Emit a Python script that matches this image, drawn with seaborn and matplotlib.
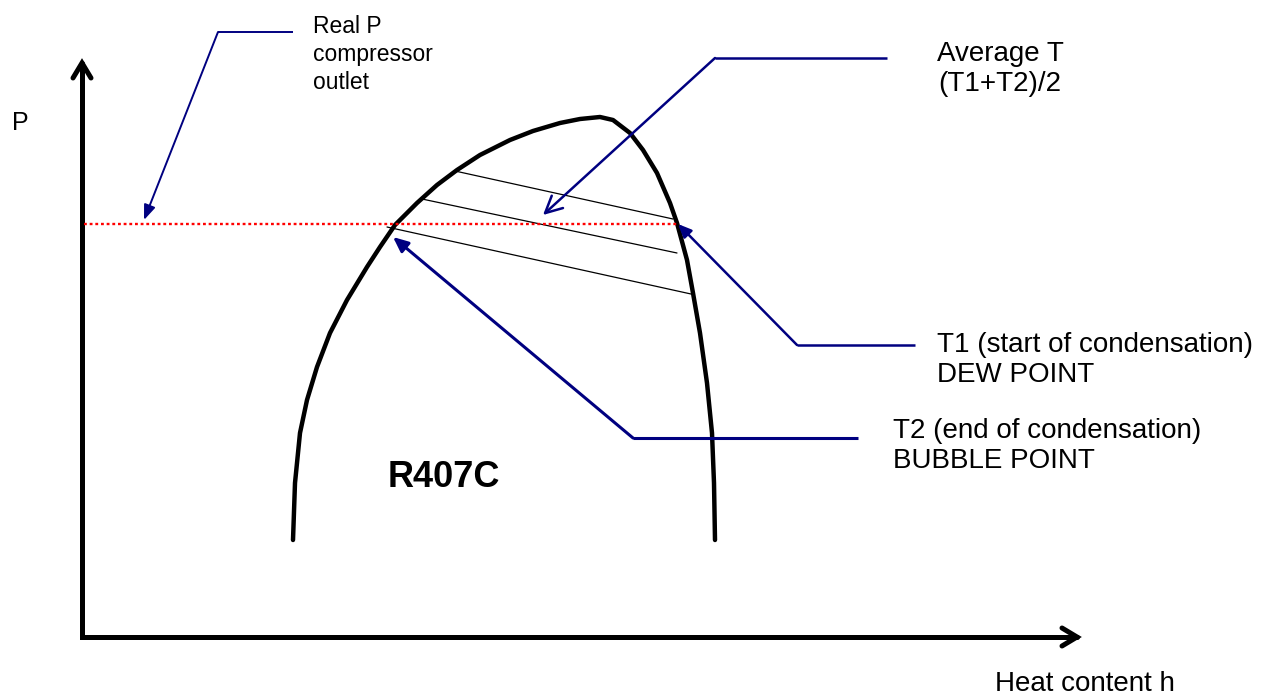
import matplotlib
matplotlib.use('Agg')
import matplotlib.pyplot as plt
import seaborn as sns
import pandas as pd

# Saturation dome of R407C (schematic, pixel-space coordinates)
dome_h = [293, 295, 300, 307, 317, 330, 347, 367, 380, 395, 417, 437, 457,
          480, 510, 533, 560, 580, 600, 613, 630, 643, 657, 670, 677, 687, 693,
          700, 707, 712, 714, 715]
dome_p = [540, 483, 433, 400, 367, 333, 300, 267, 247, 225, 203, 185, 170,
          155, 140, 131, 123, 119, 117, 120, 133, 150, 173, 203, 223, 260, 293,
          333, 383, 433, 483, 540]

# Isotherms inside the two-phase region (temperature glide)
iso_h0 = [455, 422, 387]
iso_p0 = [171, 199, 227]
iso_h1 = [673, 677, 691]
iso_p1 = [219, 253, 294]

# Condensing pressure (compressor outlet)
p_real = 224
h_red = [84, 677]

# Callouts: label, text anchor, shelf end, elbow, arrow tip
labels = ['Real P\ncompressor\noutlet', 'Average T\n(T1+T2)/2',
          'T1 (start of condensation)\nDEW POINT', 'T2 (end of condensation)\nBUBBLE POINT']
label_xy = [(313, 15), (1000, 41), (937, 332), (893, 418)]
shelf_x = [293, 887, 915, 858]
elbow = [(218, 32), (715, 58), (797, 345), (633, 438)]
tips = [(144, 220), (543, 215), (678, 224), (393, 237)]

# Axis frame: origin and arrow tips
origin = (82, 637)
p_tip = 63
h_tip = 1077
head = (9, 15)  # half width, length of chevron

sns.set_style('white')
plt.rcParams['font.family'] = ['Liberation Sans', 'DejaVu Sans']
plt.rcParams['text.color'] = 'black'

fig = plt.figure(figsize=(12.84, 6.97), dpi=100)
ax = fig.add_axes([0, 0, 1, 1])

navy = '#000080'

# dome
df_dome = pd.DataFrame({'h': dome_h, 'p': dome_p})
sns.lineplot(data=df_dome, x='h', y='p', sort=False, color='black', lw=3.2, ax=ax,
             solid_joinstyle='round')
ax.set_xlim(0, 1284)
ax.set_ylim(697, 0)
ax.axis('off')

# axes arrows (P up, h to the right)
ox, oy = origin
hw, hl = head
ax_kw = dict(color='black', lw=3.6, solid_joinstyle='miter', solid_capstyle='round')
ax.plot([ox, ox, h_tip], [p_tip, oy, oy], **ax_kw)
ax.plot([ox - hw, ox, ox + hw], [p_tip + hl, p_tip, p_tip + hl], **ax_kw)
ax.plot([h_tip - hl, h_tip, h_tip - hl], [oy - hw, oy, oy + hw], **ax_kw)
ax.text(12, 111, 'P', fontsize=18, va='top', ha='left')
ax.text(995, 671, 'Heat content h', fontsize=20, va='top', ha='left')

# isotherms
for h0, p0, h1, p1 in zip(iso_h0, iso_p0, iso_h1, iso_p1):
    ax.plot([h0, h1], [p0, p1], color='black', lw=0.9)

# red pressure line
ax.plot(h_red, [p_real, p_real], color='red', lw=1.7, linestyle=(0, (1.2, 1.2)))

# callouts
styles = ['-|>,head_length=0.9,head_width=0.35', '->,head_length=1.2,head_width=0.6',
          '-|>,head_length=0.8,head_width=0.35', '-|>,head_length=0.9,head_width=0.4']
widths = [1.4, 1.8, 1.8, 2.2]
for sx, (ex, ey), (tx, ty), st, w in zip(shelf_x, elbow, tips, styles, widths):
    ax.plot([sx, ex], [ey, ey], color=navy, lw=w, solid_capstyle='butt')
    ax.annotate('', xy=(tx, ty), xytext=(ex, ey),
                arrowprops=dict(arrowstyle=st, lw=w, color=navy, shrinkA=0, shrinkB=0))

ax.text(*label_xy[0], labels[0], fontsize=16.5, va='top', ha='left', linespacing=1.28)
ax.text(*label_xy[1], labels[1], fontsize=20, va='top', ha='center', linespacing=1.22)
ax.text(*label_xy[2], labels[2], fontsize=20, va='top', ha='left', linespacing=1.22)
ax.text(*label_xy[3], labels[3], fontsize=20, va='top', ha='left', linespacing=1.22)

ax.text(388, 460, 'R407C', fontsize=26, fontweight='bold', va='top', ha='left')

fig.savefig('out.png', dpi=100)
